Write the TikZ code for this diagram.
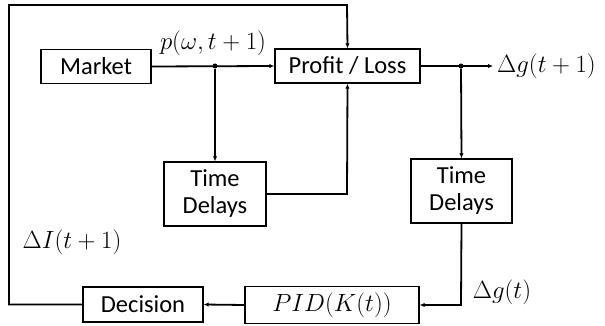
\documentclass[tikz,border=0pt]{standalone}
\usepackage{fontspec}
\setmainfont{Carlito}
\usetikzlibrary{arrows.meta}
\begin{document}
\begin{tikzpicture}[x=1pt,y=-1pt,
  blk/.style={draw,line width=1.4pt,minimum width=#1,inner sep=0pt,align=center,
    font=\fontsize{24.5}{27}\selectfont},
  wire/.style={line width=1.8pt},
  arr/.style={wire,-{Latex[length=5pt,width=4.5pt]}},
  junc/.style={circle,fill,inner sep=0pt,minimum size=5pt},
  lbl/.style={font=\fontsize{29}{32}\selectfont,inner sep=0pt}]
\useasboundingbox (0,0) rectangle (605,326);
% blocks
\node[blk=110pt,minimum height=34pt] (market) at (96,66.5) {Market};
\node[blk=145pt,minimum height=34pt] (profit) at (347.5,66) {Profit / Loss};
\node[blk=102pt,minimum height=64pt] (td1) at (215,194) {Time\\Delays};
\node[blk=101pt,minimum height=64pt] (td2) at (461.5,191) {Time\\Delays};
\node[blk=174pt,minimum height=37pt,font=\fontsize{29.5}{32}\selectfont] (pid) at (332,305) {$PID\bigl(K(t)\bigr)$};
\node[blk=120pt,minimum height=35pt] (decision) at (143,304.5) {Decision};
% junctions and corners
\node[junc] (j1) at (215,66) {};
\node[junc] (j2) at (461,66) {};
\coordinate (c1) at (347,194);
\coordinate (c2) at (9,304.5);
\coordinate (c3) at (9,5);
\coordinate (c4) at (347,5);
\coordinate (c5) at (461,305);
\coordinate (out) at (493,66);
% connectors
\draw[arr] (market.east) -- (profit.west);
\draw[arr] (j1) -- (td1.north);
\draw[arr] (td1.east) -- (c1) -- (profit.south);
\draw[arr] (decision.west) -- (c2) -- (c3) -- (c4) -- (profit.north);
\draw[arr] (profit.east) -- (out);
\draw[arr] (j2) -- (td2.north);
\draw[arr] (td2.south) -- (c5) -- (pid.east);
\draw[arr] (pid.west) -- (decision.east);
% signal labels
\node[lbl] (lp) at (213,43) {$p(\omega,t+1)$};
\node[lbl,anchor=west] (lg) at (497,66) {$\Delta g(t+1)$};
\node[lbl] (li) at (72,242) {$\Delta I(t+1)$};
\node[lbl] (lgt) at (502,292) {$\Delta g(t)$};
\end{tikzpicture}
\end{document}
